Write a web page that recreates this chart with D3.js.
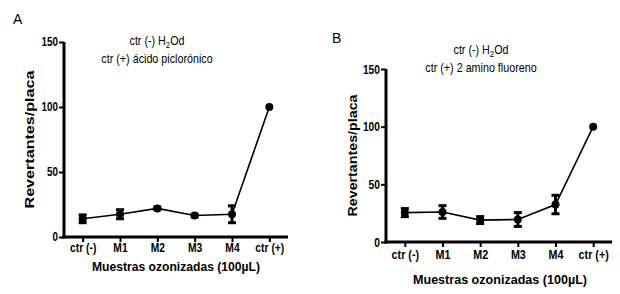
<!DOCTYPE html>
<html>
<head>
<meta charset="utf-8">
<script src="https://cdn.jsdelivr.net/npm/d3@7"></script>
<style>
  body { margin: 0; background: #fff; }
  svg { display: block; }
  text { font-family: "Liberation Sans", Arial, sans-serif; fill: #000; }
</style>
</head>
<body>
<div id="chart"></div>
<script>
// datos
var categorias = ["ctr (-)", "M1", "M2", "M3", "M4", "ctr (+)"];
var mediasA = [14, 17.5, 22, 16.5, 17.5, 100];
var errA = [3, 3.5, 1, 1, 6.5, 0];
var mediasB = [25.5, 26, 19, 19.5, 32.5, 100];
var errB = [3.5, 5.5, 3, 6, 8, 0];
var ticksY = [0, 50, 100, 150];

var svg = d3.select("#chart").append("svg").attr("width", 620).attr("height", 294);

// texto angosto (tipo Arial Narrow): se comprime en x
function angosto(sel, f) {
    sel.each(function () {
        var t = d3.select(this);
        var x = +t.attr("x") || 0;
        t.attr("x", x / f).attr("transform", "scale(" + f + ",1)");
    });
}

function Panel(cfg) {
    var x = d3.scalePoint().domain(categorias).range([cfg.left, cfg.right]).padding(0.5);
    var y = d3.scaleLinear().domain([0, 150]).range([cfg.bottom, cfg.top]);
    var datos = categorias.map(function (c, i) { return { cat: c, m: cfg.medias[i], e: cfg.err[i] }; });
    var g = svg.append("g");

    // letra del panel
    g.append("text").attr("x", cfg.letraX).attr("y", cfg.letraY)
        .attr("font-size", 14).text(cfg.letra);

    // titulo (dos lineas)
    var tg = g.append("g").attr("transform", "translate(" + cfg.tituloX + "," + cfg.tituloY + ") scale(0.86,1)");
    var t1 = tg.append("text").attr("text-anchor", "middle").attr("font-size", 12.5);
    t1.append("tspan").text("ctr (-) H");
    t1.append("tspan").attr("dy", 3).attr("font-size", 9).text("2");
    t1.append("tspan").attr("dy", -3).text("Od");
    tg.append("text").attr("y", 18.5).attr("text-anchor", "middle").attr("font-size", 12.5).text(cfg.titulo2);

    // ejes
    var ax = g.append("g").attr("transform", "translate(0," + cfg.bottom + ")")
        .call(d3.axisBottom(x).tickSize(5).tickPadding(cfg.padX).tickSizeOuter(0));
    var ay = g.append("g").attr("transform", "translate(" + cfg.left + ",0)")
        .call(d3.axisLeft(y).tickValues(ticksY).tickSize(5).tickPadding(1).tickSizeOuter(0));
    [ax, ay].forEach(function (a) {
        a.select(".domain").attr("stroke-width", 3).attr("stroke", "#000");
        a.selectAll(".tick line").attr("stroke-width", 2).attr("stroke", "#000");
        a.selectAll(".tick text").attr("font-family", null).attr("font-weight", "bold")
            .attr("font-size", cfg.tickFont).attr("fill", "#000");
    });
    angosto(ax.selectAll(".tick text"), 0.86);
    angosto(ay.selectAll(".tick text"), 0.82);
    ax.select(".domain").attr("d", "M" + (cfg.left - 1.5) + ",0H" + cfg.right);
    ay.select(".domain").attr("d", "M0," + cfg.top + "V" + (cfg.bottom + 1.5));

    // titulos de ejes
    g.append("text").attr("font-weight", "bold").attr("font-size", 13)
        .attr("x", cfg.xLabelX).attr("y", cfg.xLabelY)
        .attr("text-anchor", "middle")
        .attr("textLength", cfg.xLabelLen).attr("lengthAdjust", "spacingAndGlyphs")
        .text("Muestras ozonizadas (100\u00b5L)");
    g.append("text").attr("font-weight", "bold").attr("font-size", 13)
        .attr("transform", "translate(" + cfg.yLabelX + "," + (cfg.top + cfg.bottom) / 2 + ") rotate(-90)")
        .attr("text-anchor", "middle")
        .attr("textLength", cfg.yLabelLen).attr("lengthAdjust", "spacingAndGlyphs")
        .text("Revertantes/placa");

    // linea
    g.append("path").datum(datos)
        .attr("fill", "none").attr("stroke", "#000").attr("stroke-width", 1.6)
        .attr("d", d3.line().x(function (d) { return x(d.cat); }).y(function (d) { return y(d.m); }));

    // barras de error
    var eb = g.selectAll(".eb").data(datos.filter(function (d) { return d.e > 0; }))
        .enter().append("g").attr("class", "eb");
    eb.append("line")
        .attr("x1", function (d) { return x(d.cat); }).attr("x2", function (d) { return x(d.cat); })
        .attr("y1", function (d) { return y(d.m - d.e); }).attr("y2", function (d) { return y(d.m + d.e); })
        .attr("stroke", "#000").attr("stroke-width", 3);
    [-1, 1].forEach(function (s) {
        eb.append("line")
            .attr("x1", function (d) { return x(d.cat) - 4; }).attr("x2", function (d) { return x(d.cat) + 4; })
            .attr("y1", function (d) { return y(d.m + s * d.e); }).attr("y2", function (d) { return y(d.m + s * d.e); })
            .attr("stroke", "#000").attr("stroke-width", 3);
    });

    // puntos
    g.selectAll(".pt").data(datos).enter().append("circle").attr("class", "pt")
        .attr("cx", function (d) { return x(d.cat); }).attr("cy", function (d) { return y(d.m); })
        .attr("r", 4).attr("fill", "#000");
}

Panel({ letra: "A", letraX: 13, letraY: 24, medias: mediasA, err: errA,
    left: 64, right: 288, top: 42, bottom: 237, padX: 1, tickFont: 12,
    tituloX: 157, tituloY: 45, titulo2: "ctr (+) \u00e1cido picloro\u0301nico".normalize("NFC"),
    xLabelX: 176, xLabelY: 271, xLabelLen: 168, yLabelX: 34, yLabelLen: 138 });

Panel({ letra: "B", letraX: 332, letraY: 43, medias: mediasB, err: errB,
    left: 386, right: 612, top: 69, bottom: 242, padX: 3, tickFont: 12.5,
    tituloX: 481, tituloY: 54, titulo2: "ctr (+) 2 amino fluoreno",
    xLabelX: 500, xLabelY: 284, xLabelLen: 174, yLabelX: 357, yLabelLen: 122 });
</script>
</body>
</html>
